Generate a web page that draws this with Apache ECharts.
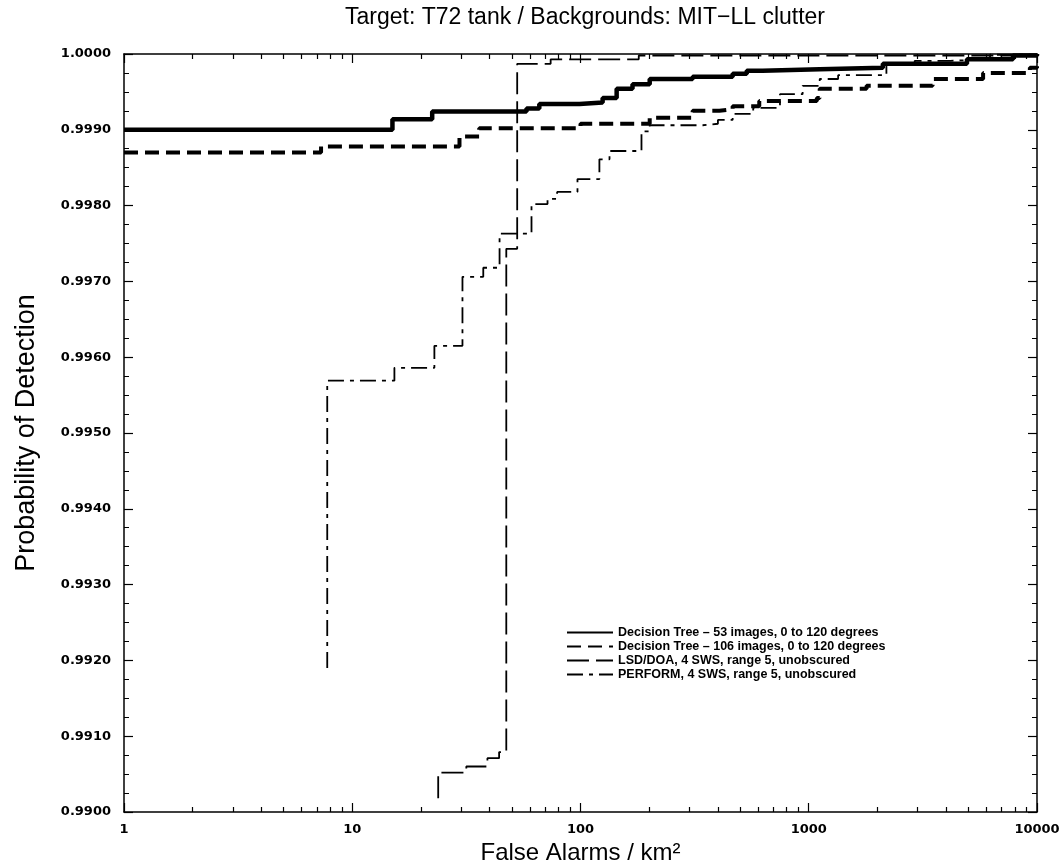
<!DOCTYPE html>
<html>
<head>
<meta charset="utf-8">
<title>Target: T72 tank / Backgrounds: MIT-LL clutter</title>
<script src="https://cdn.jsdelivr.net/npm/echarts@6/dist/echarts.min.js"></script>
<style>
    html, body { margin: 0; padding: 0; background: #fff; }
    #chart { width: 1063px; height: 861px; }
</style>
</head>
<body>
<div id="chart"></div>
<script>
// axis ticks
var xTicks = [1, 10, 100, 1000, 10000];
var xMinorTicks = [2, 3, 4, 5, 6, 7, 8, 9,
    20, 30, 40, 50, 60, 70, 80, 90,
    200, 300, 400, 500, 600, 700, 800, 900,
    2000, 3000, 4000, 5000, 6000, 7000, 8000, 9000];

var names = [
    'Decision Tree \u2013 53 images, 0 to 120 degrees',
    'Decision Tree \u2013 106 images, 0 to 120 degrees',
    'LSD/DOA, 4 SWS, range 5, unobscured',
    'PERFORM, 4 SWS, range 5, unobscured'
];

// Decision Tree, 53 images
var dt53X = [1, 15.0, 22.4, 58, 66, 99, 125, 144, 169, 201, 310, 464, 535, 628, 1117, 2112, 4933, 7850, 10000];
var dt53Y = [0.99900, 0.99914, 0.99924, 0.99928, 0.99934, 0.99936, 0.99942, 0.99954, 0.99960, 0.99967,
    0.99970, 0.99974, 0.99978, 0.99980, 0.99982, 0.99987, 0.99993, 0.99998, 1.0];

// Decision Tree, 106 images
var dt106X = [1, 7.3, 29.5, 36, 100, 201, 310, 406, 464, 607, 1085, 1117, 1792, 3487, 5806, 9305, 10000];
var dt106Y = [0.99870, 0.99878, 0.99891, 0.99902, 0.99908, 0.99916, 0.99925, 0.99927, 0.99931, 0.99938,
    0.99942, 0.99954, 0.99958, 0.99967, 0.99975, 0.99982, 0.99984];

// LSD/DOA
var lsdX = [23.8, 23.8, 31.6, 39.1, 44, 47.3, 52.8, 74, 180, 10000];
var lsdY = [0.99018, 0.99052, 0.99060, 0.99071, 0.99079, 0.99743, 0.99987, 0.99993, 0.99998, 1.0];

// PERFORM
var perfX = [7.77, 7.77, 15.3, 22.9, 30.4, 37.5, 44.2, 61, 71.7, 79, 97, 121, 134, 185, 201, 343, 400,
    464, 571, 748, 940, 1117, 1345, 2189, 2912, 4165, 6226, 10000];
var perfY = [0.99190, 0.99569, 0.99586, 0.99615, 0.99706, 0.99718, 0.99763, 0.99802, 0.99809, 0.99818,
    0.99835, 0.99861, 0.99872, 0.99898, 0.99906, 0.99908, 0.99913, 0.99921, 0.99929, 0.99947, 0.99958,
    0.99967, 0.99972, 0.99987, 0.99991, 0.99993, 0.99999, 1.0];

var tickFont = {
    color: '#000',
    fontFamily: 'DejaVu Sans',
    fontWeight: 'bold',
    fontSize: 13
};

function pairs(xs, ys) {
    var out = [];
    for (var i = 0; i < xs.length; i++) {
        out.push([xs[i], ys[i]]);
    }
    return out;
}

function stepLine(name, xs, ys, width, dash) {
    return {
        name: name,
        type: 'line',
        step: 'end',
        symbol: 'none',
        xAxisIndex: 0,
        yAxisIndex: 0,
        itemStyle: { color: '#000' },
        lineStyle: {
            color: '#000',
            width: width,
            type: dash,
            cap: 'butt'
        },
        data: pairs(xs, ys)
    };
}

function xAxis(position, major) {
    var axis = {
        type: 'log',
        logBase: 10,
        min: 1,
        max: 10000,
        position: position,
        axisLine: { show: major, lineStyle: { color: '#000', width: 1.5 } },
        axisTick: {
            show: true,
            inside: true,
            length: major ? 9 : 5,
            customValues: major ? xTicks : xMinorTicks,
            lineStyle: { color: '#000', width: 1.2 }
        },
        axisLabel: { show: false },
        splitLine: { show: false }
    };
    return axis;
}

function yAxis(position) {
    return {
        type: 'value',
        min: 0.99,
        max: 1.0,
        interval: 0.001,
        position: position,
        axisLine: { show: true, lineStyle: { color: '#000', width: 1.5 } },
        axisTick: { show: true, inside: true, length: 9, lineStyle: { color: '#000', width: 1.2 } },
        minorTick: { show: true, splitNumber: 4, length: 5, lineStyle: { color: '#000', width: 1 } },
        axisLabel: { show: false },
        splitLine: { show: false }
    };
}

var xBottom = xAxis('bottom', true);
xBottom.axisLabel = {
    show: true,
    margin: 11,
    customValues: xTicks,
    formatter: function (v) { return String(Math.round(v)); }
};
for (var k in tickFont) xBottom.axisLabel[k] = tickFont[k];
xBottom.name = 'False Alarms / km\u00b2';
xBottom.nameLocation = 'middle';
xBottom.nameGap = 22;
xBottom.nameTextStyle = {
    color: '#000',
    fontFamily: 'Liberation Sans',
    fontSize: 24
};

var yLeft = yAxis('left');
yLeft.axisLabel = {
    show: true,
    margin: 13,
    formatter: function (v) { return v.toFixed(4); }
};
for (var k2 in tickFont) yLeft.axisLabel[k2] = tickFont[k2];
yLeft.name = 'Probability of Detection';
yLeft.nameLocation = 'middle';
yLeft.nameGap = 84;
yLeft.nameTextStyle = {
    color: '#000',
    fontFamily: 'Liberation Sans',
    fontSize: 27
};

var yRight = yAxis('right');

var option = {
    animation: false,
    backgroundColor: '#fff',
    title: {
        text: 'Target: T72 tank / Backgrounds: MIT\u2212LL clutter',
        left: 580,
        textAlign: 'center',
        top: 1,
        textStyle: {
            color: '#000',
            fontFamily: 'Liberation Sans',
            fontWeight: 'normal',
            fontSize: 23
        }
    },
    grid: {
        left: 124,
        right: 26,
        top: 54,
        bottom: 49,
        outerBoundsMode: 'none'
    },
    legend: {
        orient: 'vertical',
        left: 561,
        top: 621,
        itemWidth: 46,
        itemHeight: 10,
        itemGap: 1,
        data: names,
        itemStyle: { opacity: 0 },
        textStyle: {
            color: '#000',
            fontFamily: 'Liberation Sans',
            fontWeight: 'bold',
            fontSize: 12.5,
            lineHeight: 13
        }
    },
    xAxis: [xBottom, xAxis('bottom', false), xAxis('top', true), xAxis('top', false)],
    yAxis: [yLeft, yRight],
    series: [
        stepLine(names[0], dt53X, dt53Y, 4.5, 'solid'),
        stepLine(names[1], dt106X, dt106Y, 4, [14, 7]),
        stepLine(names[2], lsdX, lsdY, 1.8, [22, 7]),
        stepLine(names[3], perfX, perfY, 1.8, [16, 6, 4, 6])
    ]
};

var chart = echarts.init(document.getElementById('chart'));
chart.setOption(option);
</script>
</body>
</html>
